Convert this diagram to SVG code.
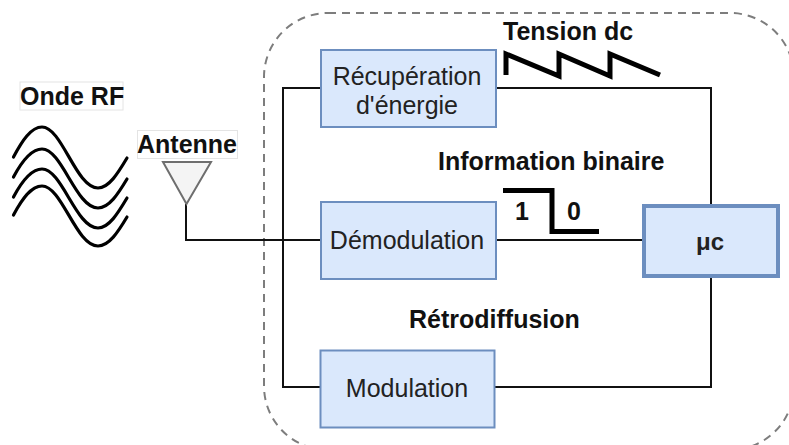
<svg xmlns="http://www.w3.org/2000/svg" width="789" height="445" viewBox="0 0 789 445">
<style>
text{font-family:"Liberation Sans",Arial,sans-serif;fill:#111}
.b{font-weight:bold;font-size:25px}
.n{font-size:25px;text-anchor:middle;fill:#222}
.box{fill:#dae8fc;stroke:#6c8ebf;stroke-width:2}
.line{fill:none;stroke:#111;stroke-width:2}
.wave{fill:none;stroke:#000;stroke-width:3.2;stroke-linecap:round}
.thick{fill:none;stroke:#000;stroke-width:5}
.lab{fill:#fff;stroke:#e4e4e4;stroke-width:1}
</style>
<rect id="enclosure" x="264" y="13" width="530" height="437" rx="64" ry="64" fill="none" stroke="#7d7d7d" stroke-width="2" stroke-dasharray="8 6"/>
<g id="connectors">
<path class="line" d="M321 88H283V387H321"/>
<path class="line" d="M496 88H711V206"/>
<path class="line" d="M494 387H711V276"/>
<path class="line" d="M186 204V240H321"/>
<path class="line" d="M496 240H643"/>
</g>
<g id="onde-rf">
<rect class="lab" x="20" y="82" width="103" height="28"/>
<text class="b" x="20" y="105">Onde RF</text>
<path class="wave" d="M13.500 157C22 141 31 127 42 127C62 127 76 188 98 188C109 188 118 173 127 158"/>
<path class="wave" d="M13.500 177C22 161 31 149 42 149C62 149 76 208 98 208C109 208 118 194 127 179"/>
<path class="wave" d="M13.500 197C22 181 31 169 42 169C62 169 76 228 98 228C109 228 118 213 127 198"/>
<path class="wave" d="M13.500 215C22 199 31 186 42 186C62 186 76 246 98 246C109 246 118 232 127 217"/>
</g>
<g id="antenne">
<rect class="lab" x="137.500" y="130.500" width="100" height="28"/>
<text class="b" x="137" y="153">Antenne</text>
<path d="M163 162H211L186.500 204Z" fill="#f4f4f4" stroke="#6e6e6e" stroke-width="2"/>
</g>
<g id="recuperation">
<rect class="box" x="321" y="50" width="175" height="77"/>
<text class="n" x="407" y="85">Récupération</text>
<text class="n" x="407" y="114">d'énergie</text>
</g>
<g id="demodulation">
<rect class="box" x="321" y="202" width="175" height="77"/>
<text class="n" x="407" y="249">Démodulation</text>
</g>
<g id="modulation">
<rect class="box" x="320.500" y="350.500" width="174" height="77"/>
<text class="n" x="407" y="397">Modulation</text>
</g>
<g id="uc">
<rect class="box" style="stroke-width:4" x="644" y="206" width="134" height="70"/>
<text x="710" y="250" text-anchor="middle" font-size="24" font-weight="bold" style="fill:#222">μc</text>
</g>
<g id="tension">
<text class="b" x="503" y="40">Tension dc</text>
<path class="thick" d="M506 75V54L559 76V54L610 76V54L660 75"/>
</g>
<g id="info">
<text class="b" x="438" y="170">Information binaire</text>
<path class="thick" d="M503 190.500H552V231.500H599"/>
<text class="b" x="515" y="220">1</text>
<text class="b" x="567" y="220">0</text>
</g>
<g id="retro">
<text class="b" x="409" y="328">Rétrodiffusion</text>
</g>
</svg>
